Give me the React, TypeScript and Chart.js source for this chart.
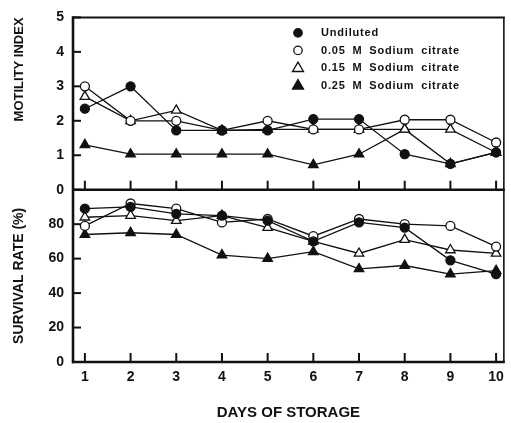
import React, { useEffect, useRef } from 'react';
import { Chart, registerables } from 'chart.js';

Chart.register(...registerables);

const days = [1, 2, 3, 4, 5, 6, 7, 8, 9, 10];
const seriesLabels = ['Undiluted', '0.05 M Sodium citrate', '0.15 M Sodium citrate', '0.25 M Sodium citrate'];

const motUndiluted = [2.35, 3.0, 1.72, 1.72, 1.72, 2.05, 2.05, 1.03, 0.75, 1.08];
const mot005 = [3.0, 2.0, 2.0, 1.72, 2.0, 1.75, 1.75, 2.03, 2.03, 1.37];
const mot015 = [2.7, 2.0, 2.3, 1.72, 1.75, 1.75, 1.75, 1.75, 1.75, 1.08];
const mot025 = [1.3, 1.03, 1.03, 1.03, 1.03, 0.72, 1.03, 1.75, 0.75, 1.08];

const survUndiluted = [89, 90, 86, 85, 82, 70, 81, 78, 59, 51];
const surv005 = [79, 92, 89, 81, 83, 73, 83, 80, 79, 67];
const surv015 = [84, 85, 82, 85, 78, 70, 63, 71, 65, 63];
const surv025 = [74, 75, 74, 62, 60, 64, 54, 56, 51, 53];

const motilityTicks = [0, 1, 2, 3, 4, 5];
const survivalTicks = [0, 20, 40, 60, 80];

const INK = '#111';
const FONT = "'Liberation Sans', Arial, Helvetica, sans-serif";

const styles = [
  { pointStyle: 'circle', fill: INK, radius: 4.5 },
  { pointStyle: 'circle', fill: '#fff', radius: 4.5 },
  { pointStyle: 'triangle', fill: '#fff', radius: 5.5 },
  { pointStyle: 'triangle', fill: INK, radius: 5.5 },
];

function ds(label: string, values: number[], idx: number, axis: string) {
  const s = styles[idx];
  return {
    label,
    data: days.map((d, i) => ({ x: d, y: values[i] })),
    yAxisID: axis,
    borderColor: INK,
    borderWidth: 1.3,
    pointStyle: s.pointStyle,
    pointRadius: s.radius,
    pointBackgroundColor: s.fill,
    pointBorderColor: INK,
    pointBorderWidth: 1.3,
    tension: 0,
  };
}

function drawMarker(ctx: CanvasRenderingContext2D, idx: number, x: number, y: number) {
  const s = styles[idx];
  ctx.beginPath();
  if (s.pointStyle === 'circle') {
    ctx.arc(x, y, 4.2, 0, Math.PI * 2);
  } else {
    const r = 5.8;
    ctx.moveTo(x, y - r);
    ctx.lineTo(x + r * 0.95, y + r * 0.62);
    ctx.lineTo(x - r * 0.95, y + r * 0.62);
    ctx.closePath();
  }
  ctx.fillStyle = s.fill;
  ctx.fill();
  ctx.lineWidth = 1.3;
  ctx.strokeStyle = INK;
  ctx.stroke();
}

const framePlugin = {
  id: 'frame',
  afterDatasetsDraw(chart: any) {
    const { ctx, chartArea } = chart;
    const x = chart.scales.x;
    const yM = chart.scales.yMot;
    const yS = chart.scales.ySurv;
    ctx.save();
    ctx.strokeStyle = INK;
    ctx.lineCap = 'butt';
    // inward ticks
    ctx.lineWidth = 2;
    const panelBottoms = [yM.bottom, yS.bottom];
    for (const pb of panelBottoms) {
      for (const d of days) {
        const px = x.getPixelForValue(d);
        ctx.beginPath();
        ctx.moveTo(px, pb);
        ctx.lineTo(px, pb - 9);
        ctx.stroke();
      }
    }
    for (const v of motilityTicks) {
      const py = yM.getPixelForValue(v);
      ctx.beginPath();
      ctx.moveTo(chartArea.left, py);
      ctx.lineTo(chartArea.left + 8, py);
      ctx.stroke();
    }
    for (const v of survivalTicks) {
      const py = yS.getPixelForValue(v);
      ctx.beginPath();
      ctx.moveTo(chartArea.left, py);
      ctx.lineTo(chartArea.left + 8, py);
      ctx.stroke();
    }
    // frame
    const line = (x1: number, y1: number, x2: number, y2: number, w: number) => {
      ctx.lineWidth = w;
      ctx.beginPath();
      ctx.moveTo(x1, y1);
      ctx.lineTo(x2, y2);
      ctx.stroke();
    };
    line(chartArea.left, chartArea.top - 1, chartArea.left, chartArea.bottom + 1.3, 2.6);
    line(chartArea.left - 1, chartArea.bottom, chartArea.right + 1, chartArea.bottom, 2.6);
    line(chartArea.left - 1, yM.bottom, chartArea.right + 1, yM.bottom, 2.6);
    line(chartArea.left - 1, chartArea.top, chartArea.right + 1, chartArea.top, 2);
    line(chartArea.right, chartArea.top, chartArea.right, chartArea.bottom, 1.6);

    // legend
    const lx = chartArea.left + 225;
    const tx = chartArea.left + 248;
    const rows = [15.5, 33, 50.5, 68];
    ctx.font = `bold 11px ${FONT}`;
    (ctx as any).letterSpacing = '0.8px';
    (ctx as any).wordSpacing = '3px';
    ctx.textBaseline = 'middle';
    ctx.textAlign = 'left';
    ctx.fillStyle = INK;
    seriesLabels.forEach((lab, i) => {
      const yy = chartArea.top + rows[i];
      drawMarker(ctx, i, lx, yy);
      ctx.fillStyle = INK;
      ctx.fillText(lab, tx, yy + 0.5);
    });
    (ctx as any).letterSpacing = '0px';
    (ctx as any).wordSpacing = '0px';
    ctx.restore();
  },
};

export default function App() {
  const ref = useRef<HTMLCanvasElement | null>(null);

  useEffect(() => {
    if (!ref.current) return;
    const tickFont = { family: FONT, size: 14, weight: 'bold' as const };
    const grid = { display: false, drawTicks: false, tickLength: 0 };
    const chart = new Chart(ref.current, {
      type: 'line',
      data: {
        datasets: [
          ds(seriesLabels[0], motUndiluted, 0, 'yMot'),
          ds(seriesLabels[1], mot005, 1, 'yMot'),
          ds(seriesLabels[2], mot015, 2, 'yMot'),
          ds(seriesLabels[3], mot025, 3, 'yMot'),
          ds(seriesLabels[0], survUndiluted, 0, 'ySurv'),
          ds(seriesLabels[1], surv005, 1, 'ySurv'),
          ds(seriesLabels[2], surv015, 2, 'ySurv'),
          ds(seriesLabels[3], surv025, 3, 'ySurv'),
        ] as any,
      },
      options: {
        animation: false,
        responsive: false,
        layout: { padding: { top: 12, right: 4, left: 0, bottom: 0 } },
        plugins: { legend: { display: false }, tooltip: { enabled: false } },
        scales: {
          x: {
            type: 'linear',
            position: 'bottom',
            min: 0.74,
            max: 10.17,
            grid,
            border: { display: false },
            afterBuildTicks: (s: any) => { s.ticks = days.map((v) => ({ value: v })); },
            afterFit: (s: any) => { s.height = 61; },
            ticks: { font: tickFont, color: INK, padding: 7 },
            title: {
              display: true,
              text: 'DAYS OF STORAGE',
              color: INK,
              font: { family: FONT, size: 15, weight: 'bold' },
              padding: { top: 0, bottom: 1 },
            },
          },
          ySurv: {
            type: 'linear',
            position: 'left',
            stack: 'panels',
            stackWeight: 1,
            weight: 1,
            min: 0,
            max: 100,
            offset: false,
            grid,
            border: { display: false },
            afterBuildTicks: (s: any) => { s.ticks = survivalTicks.map((v) => ({ value: v })); },
            afterFit: (s: any) => { s.width = 73; },
            ticks: { font: tickFont, color: INK, padding: 9 },
            title: {
              display: true,
              text: 'SURVIVAL RATE (%)',
              color: INK,
              font: { family: FONT, size: 14, weight: 'bold' },
              padding: { top: 11, bottom: 0 },
            },
          },
          yMot: {
            type: 'linear',
            position: 'left',
            stack: 'panels',
            stackWeight: 1,
            weight: 2,
            min: 0,
            max: 5,
            offset: false,
            grid,
            border: { display: false },
            afterBuildTicks: (s: any) => { s.ticks = motilityTicks.map((v) => ({ value: v })); },
            afterFit: (s: any) => { s.width = 73; },
            ticks: { font: tickFont, color: INK, padding: 9 },
            title: {
              display: true,
              text: 'MOTILITY INDEX',
              align: 'end',
              color: INK,
              font: { family: FONT, size: 13, weight: 'bold' },
              padding: { top: 12, bottom: 0 },
            },
          },
        },
      } as any,
      plugins: [framePlugin],
    });
    return () => chart.destroy();
  }, []);

  return (
    <div style={{ position: 'absolute', left: 0, top: 0, width: 511, height: 423, background: '#fff' }}>
      <canvas ref={ref} width={511} height={423} style={{ display: 'block' }} />
    </div>
  );
}
